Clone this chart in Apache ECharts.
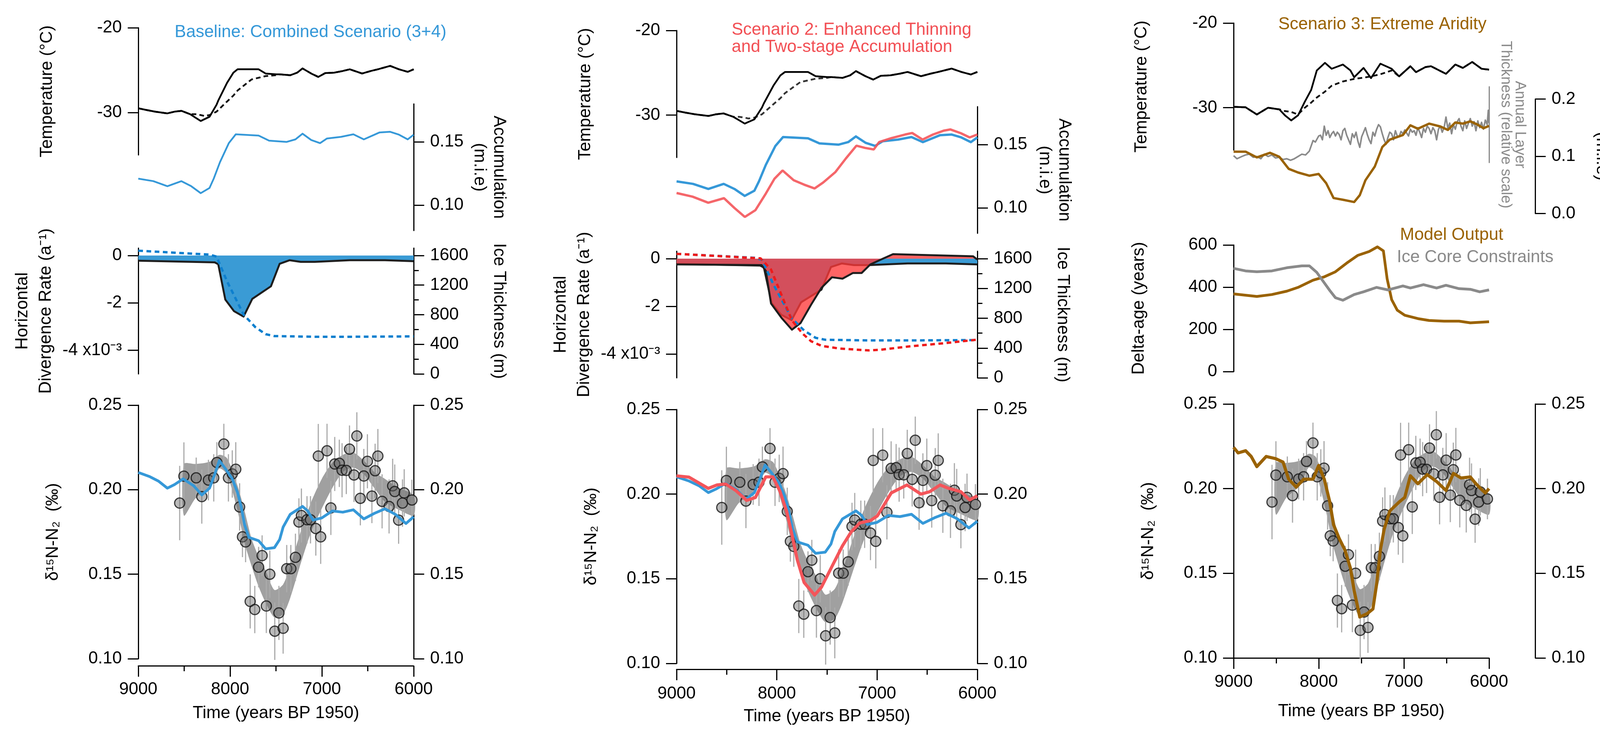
<!DOCTYPE html>
<html>
<head>
<meta charset="utf-8">
<script src="https://cdn.jsdelivr.net/npm/echarts@6/dist/echarts.min.js"></script>
<style>html,body{margin:0;padding:0;background:#fff}#c{width:4204px;height:1894px}</style>
</head>
<body>
<div id="c"></div>
<script>
// ---------------- DATA ----------------
// Temperature (°C), baseline + scenario 2 panels
const tempYears = [9000, 8912, 8817, 8683, 8606, 8530, 8434, 8377, 8320, 8282, 8224, 8148, 8129, 8033, 7964, 7918, 7766, 7689, 7613, 7498, 7460, 7345, 7269, 7211, 7116, 7039, 6963, 6867, 6772, 6696, 6562, 6466, 6390, 6256, 6160, 6065, 6000];
const tempSolid = [-29.5, -29.7, -29.9, -30.1, -29.9, -29.8, -30.2, -30.6, -31.0, -30.8, -30.5, -29.1, -28.6, -26.5, -25.3, -24.9, -24.9, -24.9, -25.4, -25.5, -25.5, -25.6, -25.3, -24.8, -25.4, -25.8, -25.35, -25.3, -25.1, -24.9, -25.4, -25.1, -24.9, -24.5, -24.9, -25.2, -24.9];
const tempDashed = [-29.5, -29.7, -29.9, -30.1, -29.9, -29.8, -30.2, -30.2, -30.3, -30.4, -30.3, -29.9, -29.7, -28.7, -28.0, -27.4, -26.1, -25.9, -25.7, -25.6, -25.5, -25.6, -25.3, -24.8, -25.4, -25.8, -25.35, -25.3, -25.1, -24.9, -25.4, -25.1, -24.9, -24.5, -24.9, -25.2, -24.9];

// Accumulation (m i.e.)
const accumYears = [9000, 8836, 8683, 8530, 8423, 8320, 8224, 8178, 8110, 8014, 7938, 7689, 7575, 7383, 7288, 7211, 7116, 7020, 6944, 6791, 6657, 6543, 6371, 6256, 6160, 6065, 6000];
const accumBase = [0.121, 0.119, 0.115, 0.119, 0.115, 0.1095, 0.1136, 0.121, 0.134, 0.149, 0.156, 0.155, 0.151, 0.150, 0.152, 0.1565, 0.1515, 0.149, 0.1527, 0.154, 0.156, 0.152, 0.1575, 0.158, 0.1557, 0.152, 0.1557];
const accumS2Years = [9000, 8840, 8684, 8527, 8423, 8319, 8214, 8110, 8023, 7943, 7832, 7728, 7623, 7537, 7415, 7311, 7206, 7119, 7033, 6980, 6859, 6720, 6650, 6546, 6442, 6337, 6268, 6164, 6077, 6000];
const accumS2 = [0.1118, 0.1089, 0.1041, 0.1077, 0.100, 0.0929, 0.0982, 0.1113, 0.1231, 0.1296, 0.1219, 0.1184, 0.1154, 0.1201, 0.1284, 0.1391, 0.1492, 0.1474, 0.1462, 0.152, 0.1551, 0.158, 0.1592, 0.154, 0.158, 0.161, 0.162, 0.159, 0.1557, 0.158];

// Horizontal divergence rate (x10^-3 a^-1)
const divYears = [9000, 8167, 8129, 8052, 7957, 7853, 7758, 7555, 7460, 7353, 7231, 7078, 6696, 6313, 6000];
const divBase = [-0.22, -0.29, -0.37, -1.86, -2.35, -2.58, -1.83, -1.30, -0.35, -0.20, -0.27, -0.27, -0.20, -0.20, -0.24];
const divS2Years = [9000, 8152, 8110, 8058, 7954, 7849, 7763, 7658, 7554, 7450, 7345, 7241, 7154, 7067, 6963, 6841, 6042, 6000];
const divS2 = [-0.24, -0.27, -0.51, -1.88, -2.48, -2.98, -2.70, -1.93, -1.22, -0.78, -0.84, -0.60, -0.60, -0.24, -0.04, 0.19, 0.10, -0.04];

// Ice thickness (m)
const thickYears = [9000, 8224, 8148, 8033, 7853, 7727, 7613, 7517, 7078, 6696, 6000];
const thickBase = [1665, 1612, 1586, 1251, 802, 634, 537, 511, 502, 502, 507];
const thickS2Years = [9000, 8162, 8058, 7849, 7745, 7658, 7554, 7380, 7085, 6963, 6685, 6337, 6000];
const thickS2 = [1665, 1604, 1455, 771, 596, 491, 429, 394, 368, 377, 421, 464, 512];

// d15N-N2 observations (permil)
const obsYears = [8549, 8503, 8369, 8308, 8236, 8178, 8144, 8068, 8018, 7976, 7938, 7896, 7865, 7831, 7781, 7731, 7689, 7651, 7605, 7567, 7513, 7468, 7422, 7383, 7338, 7288, 7250, 7223, 7162, 7124, 7066, 7039, 7013, 6944, 6902, 6860, 6810, 6780, 6734, 6699, 6650, 6619, 6581, 6543, 6504, 6455, 6420, 6390, 6344, 6268, 6229, 6206, 6164, 6122, 6103, 6019];
const obsValues = [0.1921, 0.2080, 0.2070, 0.1959, 0.2057, 0.2070, 0.2161, 0.2270, 0.2070, 0.2093, 0.2121, 0.1898, 0.1721, 0.1691, 0.1339, 0.1291, 0.1542, 0.1610, 0.1312, 0.1500, 0.1163, 0.1271, 0.1180, 0.1533, 0.1533, 0.1600, 0.1809, 0.1847, 0.1822, 0.1822, 0.1770, 0.2199, 0.1721, 0.2230, 0.1892, 0.2152, 0.2156, 0.2115, 0.2114, 0.2240, 0.2087, 0.2318, 0.1949, 0.2081, 0.2168, 0.1962, 0.2112, 0.2199, 0.1931, 0.1901, 0.2023, 0.1989, 0.1820, 0.1921, 0.1981, 0.1939];
const obsErr = [0.022, 0.020, 0.012, 0.016, 0.012, 0.014, 0.012, 0.012, 0.014, 0.014, 0.016, 0.014, 0.012, 0.012, 0.016, 0.014, 0.012, 0.012, 0.016, 0.014, 0.017, 0.016, 0.015, 0.014, 0.014, 0.014, 0.014, 0.016, 0.014, 0.014, 0.016, 0.019, 0.016, 0.016, 0.016, 0.016, 0.014, 0.016, 0.014, 0.014, 0.016, 0.014, 0.016, 0.016, 0.016, 0.016, 0.016, 0.016, 0.016, 0.016, 0.016, 0.016, 0.014, 0.014, 0.014, 0.012];

// d15N uncertainty envelope
const bandYears = [8503, 8377, 8224, 8117, 8033, 7918, 7842, 7766, 7689, 7613, 7517, 7422, 7345, 7231, 7116, 7001, 6887, 6772, 6657, 6543, 6428, 6313, 6160, 6000];
const bandUpper = [0.2152, 0.2152, 0.2165, 0.2206, 0.2186, 0.2023, 0.1874, 0.1711, 0.1603, 0.1522, 0.1407, 0.1440, 0.1549, 0.1752, 0.1928, 0.2064, 0.2159, 0.2206, 0.2220, 0.2172, 0.2104, 0.2064, 0.2009, 0.1969];
const bandLower = [0.1847, 0.1949, 0.2016, 0.2125, 0.2091, 0.1874, 0.1684, 0.1549, 0.1427, 0.1332, 0.1244, 0.1264, 0.1359, 0.1562, 0.1752, 0.1888, 0.2009, 0.2104, 0.2131, 0.2091, 0.2009, 0.1928, 0.1881, 0.1847];

// Modelled d15N
const d15nBaseYears = [9000, 8874, 8778, 8683, 8606, 8511, 8396, 8308, 8224, 8167, 8117, 8052, 7976, 7918, 7880, 7842, 7796, 7689, 7613, 7517, 7460, 7422, 7345, 7211, 7154, 7097, 7001, 6887, 6772, 6657, 6543, 6428, 6313, 6199, 6084, 6000];
const d15nBase = [0.2102, 0.2077, 0.2050, 0.2009, 0.2030, 0.2064, 0.2023, 0.1969, 0.2009, 0.2091, 0.2172, 0.2125, 0.2064, 0.1982, 0.1901, 0.1793, 0.1718, 0.1698, 0.1650, 0.1657, 0.1705, 0.1779, 0.1854, 0.1901, 0.1874, 0.1820, 0.1833, 0.1874, 0.1867, 0.1881, 0.1827, 0.1860, 0.1887, 0.1854, 0.1800, 0.1840];
const d15nS2Years = [9000, 8875, 8684, 8597, 8510, 8406, 8301, 8214, 8110, 8040, 7971, 7902, 7850, 7797, 7728, 7623, 7554, 7450, 7345, 7259, 7172, 7067, 6998, 6928, 6859, 6702, 6563, 6476, 6372, 6285, 6164, 6077, 6000];
const d15nS2 = [0.2108, 0.2100, 0.2034, 0.2054, 0.2060, 0.2020, 0.1963, 0.1980, 0.2102, 0.2102, 0.2020, 0.1898, 0.1763, 0.1614, 0.1478, 0.1404, 0.1451, 0.1573, 0.1695, 0.1776, 0.1830, 0.1844, 0.1871, 0.1939, 0.2007, 0.2054, 0.2000, 0.2014, 0.2054, 0.2034, 0.2014, 0.1966, 0.1990];

// Scenario 3 (extreme aridity)
const tempS3Years = [9000, 8859, 8727, 8595, 8463, 8397, 8323, 8243, 8164, 8089, 8023, 7927, 7848, 7716, 7628, 7584, 7474, 7386, 7276, 7144, 7056, 6924, 6858, 6748, 6682, 6506, 6396, 6308, 6198, 6088, 6000];
const tempS3 = [-29.9, -29.95, -30.8, -30.0, -30.2, -30.9, -31.5, -30.9, -29.3, -27.9, -25.6, -24.7, -25.4, -24.9, -25.6, -26.4, -25.3, -26.5, -24.8, -25.4, -26.3, -25.1, -25.8, -25.2, -25.1, -26.0, -24.9, -25.3, -24.6, -25.4, -25.5];
const tempS3Dashed = [-29.9, -29.95, -30.8, -30.0, -30.2, -30.4, -30.5, -30.8, -30.0, -29.4, -28.8, -28.1, -27.4, -26.9, -26.7, -26.6, -26.45, -26.3, -26.05, -25.6, -26.3, -25.1, -25.8, -25.2, -25.1, -26.0, -24.9, -25.3, -24.6, -25.4, -25.5];
const accumS3Years = [9000, 8859, 8727, 8573, 8463, 8353, 8243, 8111, 8001, 7913, 7826, 7716, 7584, 7518, 7452, 7342, 7254, 7166, 7012, 6924, 6836, 6704, 6572, 6484, 6396, 6308, 6220, 6132, 6066, 6000];
const accumS3 = [0.108, 0.108, 0.098, 0.106, 0.099, 0.078, 0.0716, 0.066, 0.069, 0.053, 0.027, 0.024, 0.020, 0.032, 0.058, 0.082, 0.116, 0.129, 0.137, 0.154, 0.148, 0.157, 0.152, 0.146, 0.159, 0.157, 0.161, 0.155, 0.149, 0.153];
const layerYears = [9000, 8960, 8903, 8860, 8815, 8770, 8727, 8680, 8639, 8595,
  8551, 8507, 8463, 8420, 8375, 8331, 8287, 8243, 8199, 8155,
  8111, 8089, 8067, 8040, 8001, 7979, 7957, 7935, 7913, 7891,
  7870, 7848, 7826, 7804, 7782, 7760, 7738, 7716, 7694, 7672,
  7650, 7628, 7606, 7584, 7562, 7540, 7518, 7496, 7474, 7452,
  7430, 7408, 7386, 7364, 7342, 7320, 7298, 7276, 7254, 7232,
  7210, 7188, 7166, 7144, 7122, 7100, 7078, 7056, 7034, 7012,
  6990, 6968, 6946, 6924, 6902, 6880, 6858, 6836, 6814, 6792,
  6770, 6748, 6726, 6704, 6682, 6660, 6638, 6616, 6594, 6572,
  6550, 6528, 6506, 6484, 6462, 6440, 6418, 6396, 6374, 6352,
  6330, 6308, 6286, 6264, 6242, 6220, 6198, 6176, 6154, 6132,
  6110, 6088, 6066, 6044, 6022, 6009, 6000];
const layerRel = [0.09, 0.05, 0.08, 0.10, 0.11, 0.07, 0.08, 0.05, 0.11, 0.08,
  0.10, 0.06, 0.07, 0.04, 0.05, 0.03, 0.05, 0.08, 0.11, 0.10,
  0.15, 0.22, 0.29, 0.27, 0.35, 0.36, 0.30, 0.48, 0.36, 0.42,
  0.33, 0.38, 0.41, 0.35, 0.40, 0.37, 0.30, 0.42, 0.45, 0.36,
  0.30, 0.24, 0.38, 0.33, 0.40, 0.28, 0.20, 0.34, 0.40, 0.46,
  0.37, 0.30, 0.25, 0.40, 0.35, 0.44, 0.50, 0.47, 0.38, 0.30,
  0.24, 0.33, 0.40, 0.38, 0.30, 0.42, 0.35, 0.34, 0.41, 0.38,
  0.43, 0.39, 0.35, 0.44, 0.40, 0.42, 0.36, 0.46, 0.40, 0.33,
  0.45, 0.40, 0.48, 0.45, 0.38, 0.46, 0.42, 0.30, 0.44, 0.48,
  0.40, 0.46, 0.60, 0.45, 0.52, 0.38, 0.50, 0.44, 0.54, 0.58,
  0.48, 0.42, 0.55, 0.45, 0.52, 0.58, 0.48, 0.54, 0.42, 0.55,
  0.46, 0.53, 0.44, 0.56, 0.50, 0.69, 0.52];
const dageYears = [9000, 8727, 8551, 8375, 8243, 8067, 7935, 7804, 7672, 7540, 7408, 7311, 7241, 7197, 7144, 7078, 6990, 6836, 6704, 6528, 6352, 6220, 6000];
const dageModel = [368, 356, 365, 381, 399, 433, 449, 473, 514, 551, 569, 591, 572, 440, 341, 291, 267, 251, 242, 239, 239, 231, 236];
const dageObsYears = [9000, 8859, 8727, 8551, 8375, 8199, 8111, 8023, 7957, 7870, 7804, 7716, 7584, 7474, 7320, 7188, 7012, 6924, 6770, 6616, 6506, 6352, 6220, 6110, 6000];
const dageObs = [489, 477, 473, 477, 492, 501, 501, 470, 433, 384, 350, 338, 365, 378, 399, 387, 406, 396, 412, 396, 409, 393, 390, 378, 387];
const d15nS3Years = [9000, 8947, 8859, 8793, 8727, 8617, 8507, 8419, 8353, 8265, 8177, 8067, 8001, 7935, 7870, 7826, 7760, 7694, 7628, 7584, 7518, 7430, 7364, 7320, 7276, 7232, 7166, 7056, 6990, 6924, 6836, 6726, 6616, 6506, 6418, 6330, 6220, 6154, 6088, 6044, 6000];
const d15nS3 = [0.2244, 0.2211, 0.2224, 0.2190, 0.2130, 0.2190, 0.2177, 0.2157, 0.2056, 0.2009, 0.2056, 0.2056, 0.2137, 0.2056, 0.1921, 0.1787, 0.1706, 0.1639, 0.1531, 0.1397, 0.1242, 0.1262, 0.1289, 0.1437, 0.1639, 0.1760, 0.1868, 0.1921, 0.1948, 0.2076, 0.2029, 0.2083, 0.2042, 0.1989, 0.2090, 0.2063, 0.2069, 0.2029, 0.1995, 0.1975, 0.2000];

// Tick label values
const tempTicks = [-30, -20];
const accumTicks = [0.10, 0.15];
const divTicks = [-4, -2, 0];
const thickTicks = [0, 400, 800, 1200, 1600];
const thickMinorTicks = [200, 600, 1000, 1400];

// ---------------- STYLE ----------------
const FONT = "'Liberation Sans', Arial, Helvetica, sans-serif";
const BLUE = '#3598d8';
const RED = '#f4555a';
const BROWN = '#9a6200';
const GREY = '#8a8a8a';
const BAND = '#a0a0a0';

const zip = (xs, ys) => xs.map((x, i) => [x, ys[i]]);
const grids = [], xAxes = [], yAxes = [], series = [];

function grid(left, top, width, height) {
  grids.push({left, top, width, height});
  return grids.length - 1;
}
function hiddenX(g) {
  xAxes.push({type: 'value', gridIndex: g, min: 6000, max: 9000, inverse: true, show: false});
  return xAxes.length - 1;
}
function timeX(g, offset, margin, nameGap) {
  xAxes.push({
    type: 'value', gridIndex: g, min: 6000, max: 9000, interval: 1000, inverse: true, position: 'bottom', offset,
    name: 'Time (years BP 1950)', nameLocation: 'middle', nameGap,
    nameTextStyle: {fontSize: 44, fontFamily: FONT, color: '#000', verticalAlign: 'middle'},
    axisLine: {show: true, onZero: false, lineStyle: {color: '#000', width: 3}},
    axisTick: {show: true, length: 28, lineStyle: {color: '#000', width: 3}},
    minorTick: {show: true, splitNumber: 2, length: 14, lineStyle: {color: '#000', width: 3}},
    axisLabel: {show: true, margin, fontSize: 44, fontFamily: FONT, color: '#000', verticalAlign: 'middle', formatter: v => String(v)},
    splitLine: {show: false}, minorSplitLine: {show: false}
  });
  return xAxes.length - 1;
}
function yAx(g, o) {
  const ax = {
    type: 'value', gridIndex: g, position: o.position || 'left', offset: o.offset || 0,
    min: o.min, max: o.max,
    name: o.name || '', nameLocation: 'middle', nameGap: o.nameGap || 0,
    nameTextStyle: {fontSize: o.nameSize || 44, fontFamily: FONT, color: o.nameColor || '#000', align: 'center', verticalAlign: 'middle', lineHeight: o.lineHeight || 50},
    axisLine: {show: o.line !== false, onZero: false, lineStyle: {color: o.lineColor || '#000', width: 3}},
    axisTick: {show: o.ticks !== false, length: o.tickLen || 27, lineStyle: {color: '#000', width: 3}},
    axisLabel: {show: o.labels !== false, margin: 42, fontSize: 44, fontFamily: FONT, color: '#000'},
    splitLine: {show: false}
  };
  if (o.nameRotate !== undefined) ax.nameRotate = o.nameRotate;
  if (o.fmt) ax.axisLabel.formatter = o.fmt;
  if (o.interval) ax.interval = o.interval;
  if (o.ticksAt) { ax.axisTick.customValues = o.ticksAt; ax.axisLabel.customValues = o.ticksAt; }
  yAxes.push(ax);
  return yAxes.length - 1;
}
function addLine(xi, yi, xs, ys, color, width, dash, z, extra) {
  series.push(Object.assign({
    type: 'line', xAxisIndex: xi, yAxisIndex: yi, data: zip(xs, ys), symbol: 'none', showSymbol: false,
    silent: true, z: z || 4, lineStyle: {color, width, type: dash || 'solid', join: 'round'}
  }, extra || {}));
}
function addBand(xi, yi) {
  series.push({
    type: 'custom', xAxisIndex: xi, yAxisIndex: yi, z: 1, silent: true,
    data: bandYears.map((t, i) => [t, bandLower[i], bandUpper[i]]),
    encode: {x: 0, y: [1, 2]},
    renderItem: (params, api) => {
      if (params.dataIndex !== 0) return null;
      const pts = [];
      for (let i = 0; i < bandYears.length; i++) pts.push(api.coord([bandYears[i], bandUpper[i]]));
      for (let i = bandYears.length - 1; i >= 0; i--) pts.push(api.coord([bandYears[i], bandLower[i]]));
      return {type: 'polygon', shape: {points: pts, smooth: 0.25}, style: {fill: BAND}};
    }
  });
}
function addObs(xi, yi) {
  series.push({
    type: 'custom', xAxisIndex: xi, yAxisIndex: yi, z: 2, silent: true, clip: false,
    data: obsYears.map((t, i) => [t, obsValues[i] - obsErr[i], obsValues[i] + obsErr[i]]),
    encode: {x: 0, y: [1, 2]},
    renderItem: (params, api) => {
      const a = api.coord([api.value(0), api.value(1)]);
      const b = api.coord([api.value(0), api.value(2)]);
      return {type: 'line', shape: {x1: a[0], y1: a[1], x2: b[0], y2: b[1]}, style: {stroke: '#ababab', lineWidth: 3}};
    }
  });
  series.push({
    type: 'scatter', xAxisIndex: xi, yAxisIndex: yi, z: 3, silent: true,
    data: zip(obsYears, obsValues), symbol: 'circle', symbolSize: 26,
    itemStyle: {color: 'rgba(105,105,105,0.58)', borderColor: '#111', borderWidth: 3}
  });
}
const d15nFmt = v => v.toFixed(2);

// ---------------- COLUMN A: Baseline ----------------
const gAT = grid(354, 71, 705, 325.5), xAT = hiddenX(gAT);
const yAT = yAx(gAT, {min: -35, max: -20, ticksAt: tempTicks, fmt: v => String(v), name: 'Temperature (°C)', nameGap: 233});
const gAA = grid(354, 266, 705, 324), xAA = hiddenX(gAA);
const yAA = yAx(gAA, {position: 'right', min: 0.08, max: 0.18, ticksAt: accumTicks, fmt: v => v.toFixed(2), name: 'Accumulation\n(m.i.e)', nameGap: 193, nameRotate: -90});
const gAD = grid(354, 635, 705, 322), xAD = hiddenX(gAD);
const yAD = yAx(gAD, {min: -5, max: 0.3125, ticksAt: divTicks, fmt: v => v === -4 ? '-4 x10⁻³' : String(v), name: 'Horizontal\nDivergence Rate (a⁻¹)', nameGap: 266, lineHeight: 60});
const yADt = yAx(gAD, {position: 'right', min: 0, max: 1700, ticksAt: thickTicks, fmt: v => String(v), name: 'Ice Thickness (m)', nameGap: 218, nameRotate: -90});
const yADm = yAx(gAD, {position: 'right', min: 0, max: 1700, ticksAt: thickMinorTicks, tickLen: 13, labels: false, line: false});
const gAN = grid(354, 1037, 705, 649), xAN = timeX(gAN, 18, 61, 122);
const yAN = yAx(gAN, {min: 0.10, max: 0.25, interval: 0.05, fmt: d15nFmt, name: 'δ¹⁵N-N₂  (‰)', nameGap: 218});
const yANr = yAx(gAN, {position: 'right', min: 0.10, max: 0.25, interval: 0.05, fmt: d15nFmt});

addLine(xAT, yAT, tempYears, tempDashed, '#111', 4.5, [12, 8]);
addLine(xAT, yAT, tempYears, tempSolid, '#000', 4.5);
addLine(xAA, yAA, accumYears, accumBase, BLUE, 4.5);
addLine(xAD, yAD, divYears, divBase, '#1e1e1e', 5, null, 3, {areaStyle: {color: '#3a9bd5', opacity: 1}});
addLine(xAD, yADt, thickYears, thickBase, '#0d7fce', 6, [12, 9], 5);
addBand(xAN, yAN); addObs(xAN, yAN);
addLine(xAN, yAN, d15nBaseYears, d15nBase, BLUE, 7);

// ---------------- COLUMN B: Scenario 2 ----------------
const gBT = grid(1732, 78, 770, 325), xBT = hiddenX(gBT);
const yBT = yAx(gBT, {min: -35, max: -20, ticksAt: tempTicks, fmt: v => String(v), name: 'Temperature (°C)', nameGap: 233});
const gBA = grid(1732, 273, 770, 324), xBA = hiddenX(gBA);
const yBA = yAx(gBA, {position: 'right', min: 0.08, max: 0.18, ticksAt: accumTicks, fmt: v => v.toFixed(2), name: 'Accumulation\n(m.i.e)', nameGap: 197, nameRotate: -90});
const gBD = grid(1732, 643, 770, 324), xBD = hiddenX(gBD);
const yBD = yAx(gBD, {min: -5, max: 0.3125, ticksAt: divTicks, fmt: v => v === -4 ? '-4 x10⁻³' : String(v), name: 'Horizontal\nDivergence Rate (a⁻¹)', nameGap: 266, lineHeight: 60});
const yBDt = yAx(gBD, {position: 'right', min: 0, max: 1700, ticksAt: thickTicks, fmt: v => String(v), name: 'Ice Thickness (m)', nameGap: 218, nameRotate: -90});
const yBDm = yAx(gBD, {position: 'right', min: 0, max: 1700, ticksAt: thickMinorTicks, tickLen: 13, labels: false, line: false});
const gBN = grid(1732, 1048, 770, 650), xBN = timeX(gBN, 15, 63, 121);
const yBN = yAx(gBN, {min: 0.10, max: 0.25, interval: 0.05, fmt: d15nFmt, name: 'δ¹⁵N-N₂  (‰)', nameGap: 218});
const yBNr = yAx(gBN, {position: 'right', min: 0.10, max: 0.25, interval: 0.05, fmt: d15nFmt});

addLine(xBT, yBT, tempYears, tempDashed, '#333', 4.5, [12, 8]);
addLine(xBT, yBT, tempYears, tempSolid, '#000', 4.5);
addLine(xBA, yBA, accumYears, accumBase, BLUE, 6);
addLine(xBA, yBA, accumS2Years, accumS2, RED, 6, null, 5, {lineStyle: {color: 'rgba(244,85,90,0.9)', width: 6}});
addLine(xBD, yBD, divYears, divBase, '#1e1e1e', 5, null, 2, {areaStyle: {color: '#3a9bd5', opacity: 1}});
addLine(xBD, yBD, divS2Years, divS2, '#1e1e1e', 5, null, 3, {areaStyle: {color: 'rgba(255,58,58,0.78)', opacity: 1}});
addLine(xBD, yBDt, thickYears, thickBase, '#0d7fce', 6, [12, 9], 5);
addLine(xBD, yBDt, thickS2Years, thickS2, '#ee1a1a', 6, [12, 9], 5);
addBand(xBN, yBN); addObs(xBN, yBN);
addLine(xBN, yBN, d15nBaseYears, d15nBase, BLUE, 7);
addLine(xBN, yBN, d15nS2Years, d15nS2, RED, 8, null, 5);

// ---------------- COLUMN C: Scenario 3 ----------------
const gCT = grid(3158, 59, 654, 325), xCT = hiddenX(gCT);
const yCT = yAx(gCT, {min: -35, max: -20, ticksAt: tempTicks, fmt: v => String(v), name: 'Temperature (°C)', nameGap: 235});
const gCL = grid(3158, 222, 654, 194), xCL = hiddenX(gCL);
const yCL = yAx(gCL, {position: 'right', min: 0, max: 1, ticks: false, labels: false, lineColor: GREY, name: 'Annual Layer\nThickness (relative scale)', nameGap: 60, nameRotate: -90, nameSize: 38, nameColor: GREY, lineHeight: 36});
const gCA = grid(3158, 253.4, 654, 293), xCA = hiddenX(gCA);
const yCA = yAx(gCA, {position: 'right', offset: 118, min: 0, max: 0.2, interval: 0.1, fmt: v => v.toFixed(1), name: 'Accumulation\n(m.i.e)', nameGap: 195, nameRotate: -90});
const gCD = grid(3158, 627, 654, 324), xCD = hiddenX(gCD);
const yCD = yAx(gCD, {min: 0, max: 600, interval: 200, fmt: v => String(v), name: 'Delta-age (years)', nameGap: 242});
const gCN = grid(3158, 1034, 654, 650), xCN = timeX(gCN, 0, 62, 137);
const yCN = yAx(gCN, {min: 0.10, max: 0.25, interval: 0.05, fmt: d15nFmt, name: 'δ¹⁵N-N₂  (‰)', nameGap: 218});
const yCNr = yAx(gCN, {position: 'right', offset: 118, min: 0.10, max: 0.25, interval: 0.05, fmt: d15nFmt});

addLine(xCT, yCT, tempS3Years, tempS3Dashed, '#111', 4.5, [12, 8]);
addLine(xCT, yCT, tempS3Years, tempS3, '#000', 4.5);
addLine(xCL, yCL, layerYears, layerRel, GREY, 4, null, 3);
addLine(xCA, yCA, accumS3Years, accumS3, BROWN, 6, null, 4);
addLine(xCD, yCD, dageYears, dageModel, BROWN, 7, null, 4, {name: 'Model Output'});
addLine(xCD, yCD, dageObsYears, dageObs, GREY, 7, null, 4, {name: 'Ice Core Constraints'});
addBand(xCN, yCN); addObs(xCN, yCN);
addLine(xCN, yCN, d15nS3Years, d15nS3, BROWN, 8, null, 5);

// ---------------- OPTION ----------------
const titleStyle = c => ({fontSize: 44, fontWeight: 'normal', fontFamily: FONT, color: c, lineHeight: 44});
const option = {
  animation: false,
  backgroundColor: '#fff',
  title: [
    {text: 'Baseline: Combined Scenario (3+4)', left: 795, top: 83, textAlign: 'center', textVerticalAlign: 'middle', padding: 0, textStyle: titleStyle(BLUE)},
    {text: 'Scenario 2: Enhanced Thinning\nand Two-stage Accumulation', left: 1873, top: 99, textAlign: 'left', textVerticalAlign: 'middle', padding: 0, textStyle: titleStyle('#f25055')},
    {text: 'Scenario 3: Extreme Aridity', left: 3539, top: 63, textAlign: 'center', textVerticalAlign: 'middle', padding: 0, textStyle: titleStyle(BROWN)}
  ],
  legend: [
    {data: ['Model Output'], left: 3578, top: 580, orient: 'vertical', itemWidth: 0, itemHeight: 0, padding: 0, selectedMode: false,
     textStyle: {color: BROWN, fontSize: 44, fontFamily: FONT}},
    {data: ['Ice Core Constraints'], left: 3570, top: 637, orient: 'vertical', itemWidth: 0, itemHeight: 0, padding: 0, selectedMode: false,
     textStyle: {color: GREY, fontSize: 44, fontFamily: FONT}}
  ],
  grid: grids,
  xAxis: xAxes,
  yAxis: yAxes,
  series: series
};
const chart = echarts.init(document.getElementById('c'), null, {renderer: 'canvas', width: 4204, height: 1894});
chart.setOption(option);
</script>
</body>
</html>
